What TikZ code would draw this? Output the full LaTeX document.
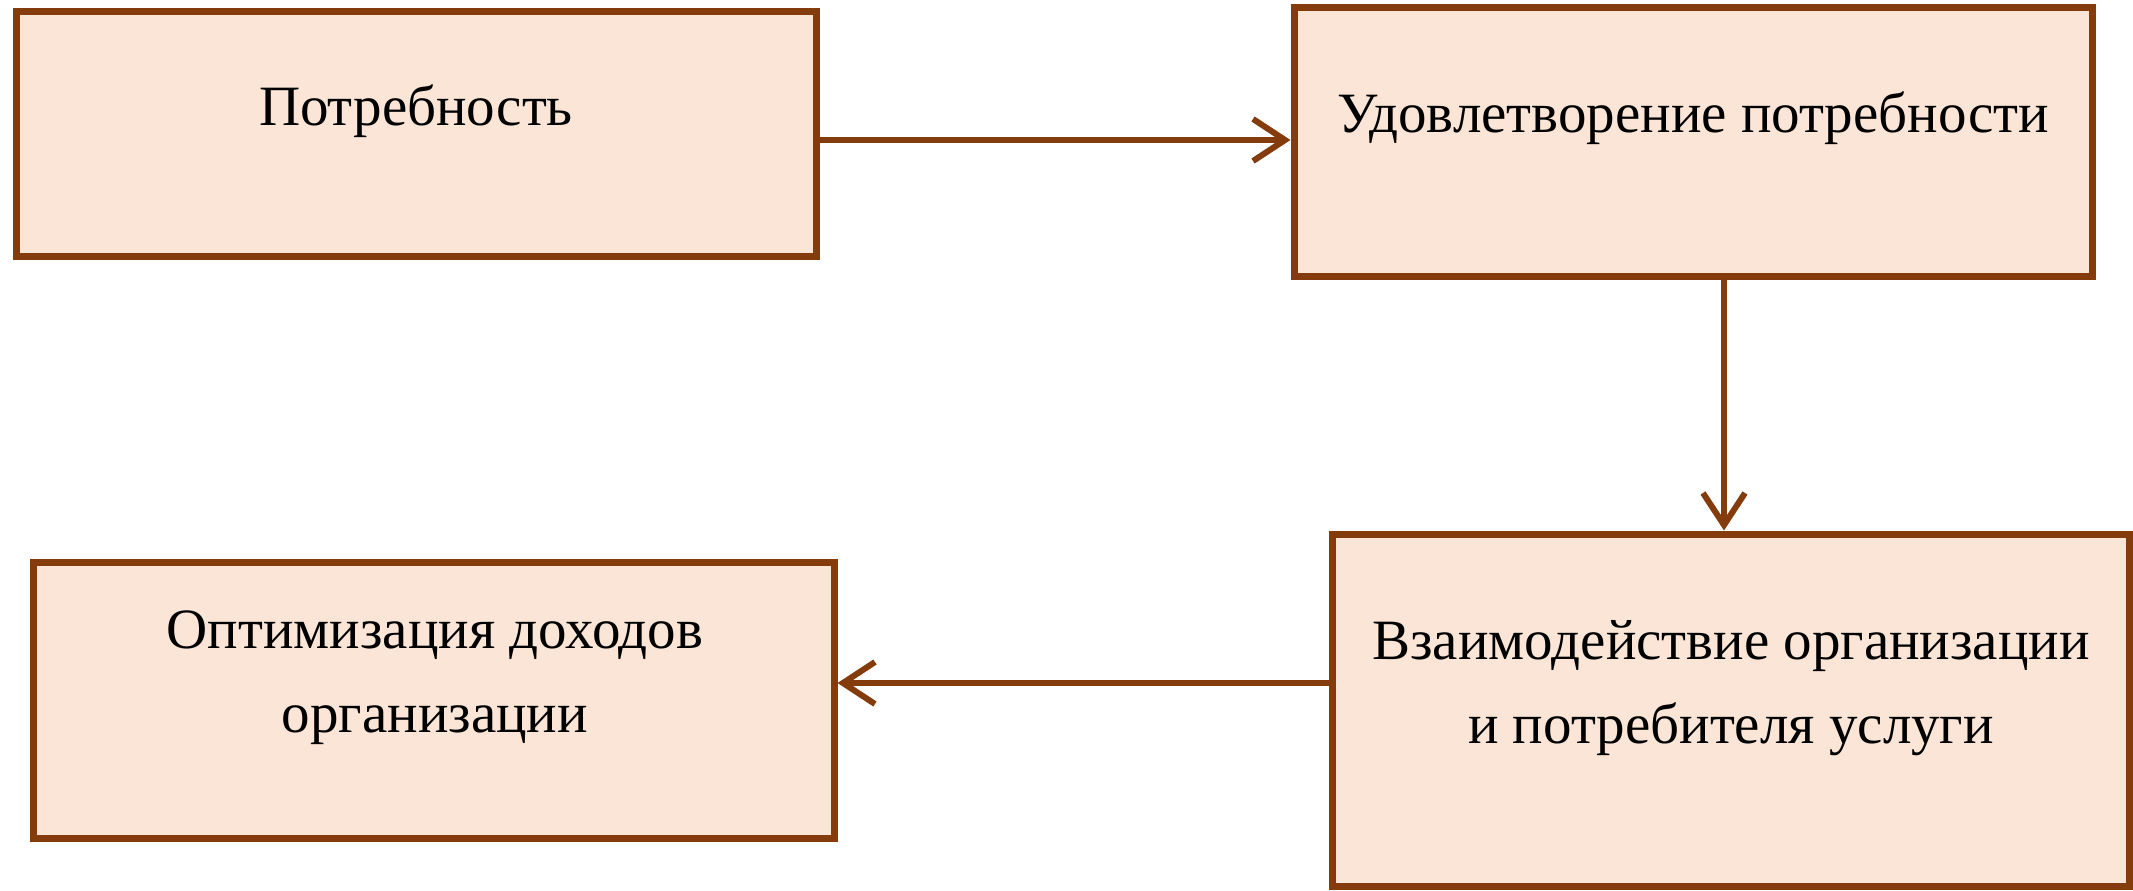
\documentclass[tikz,border=0pt]{standalone}
\usepackage{fontspec}
\setmainfont{Liberation Serif}
\usepackage{tikz}
\usetikzlibrary{arrows.meta}
\definecolor{boxfill}{HTML}{FBE5D6}
\definecolor{boxline}{HTML}{843C0C}

\begin{document}
\begin{tikzpicture}[x=0.5pt,y=-0.5pt]
		\useasboundingbox (0,0) rectangle (2133,890);
		\tikzset{stage/.style={draw=boxline,fill=boxfill,line width=3.5pt,inner sep=0pt}} %boxes
		\tikzset{stagetext/.style={anchor=base,align=center,inner sep=0pt,font=\fontsize{28.5pt}{42pt}\selectfont}}
		\tikzset{flow/.style={draw=boxline,line width=3pt,-{Straight Barb[length=16pt,width=21pt]}}} %arrows
		\node[stage,minimum width=400pt,minimum height=122.5pt] (need) at (416,133.5) {};
		\node[stage,minimum width=399pt,minimum height=134.5pt] (satisfy) at (1693,141.5) {};
		\node[stage,minimum width=398.5pt,minimum height=176pt] (interact) at (1730.5,710) {};
		\node[stage,minimum width=400.5pt,minimum height=138pt] (income) at (433.5,700) {};
		\node[stagetext] (needtext) at (416,125) {Потребность}; %texts, base = last line
		\node[stagetext] (satisfytext) at (1693,132) {Удовлетворение потребности};
		\node[stagetext] (interacttext) at (1731,743) {Взаимодействие организации\\и потребителя услуги};
		\node[stagetext] (incometext) at (435,732) {Оптимизация доходов\\организации};
		\draw[flow] ([yshift=-3.25pt]need.east) -- ([yshift=-3.25pt]need.east -| satisfy.west);
		\draw[flow] ([xshift=-3.25pt]interact.north |- satisfy.south) -- ([xshift=-3.25pt]interact.north);
		\draw[flow] ([yshift=13.5pt]interact.west) -- ([yshift=13.5pt]interact.west -| income.east);
	\end{tikzpicture}
\end{document}
